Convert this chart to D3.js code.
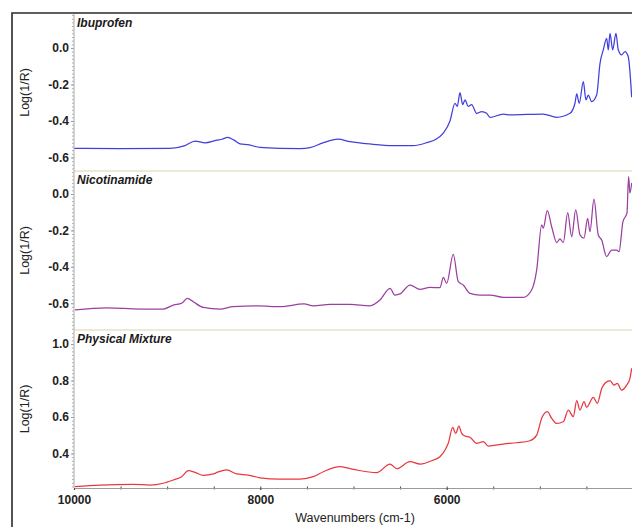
<!DOCTYPE html>
<html>
<head>
<meta charset="utf-8">
<script src="https://cdn.jsdelivr.net/npm/d3@7/dist/d3.min.js"></script>
<style>
  html, body { margin: 0; padding: 0; background: #fff; }
  svg { display: block; }
  text { font-family: "Liberation Sans", Arial, sans-serif; }
</style>
</head>
<body>
<svg id="chart" width="632" height="527"></svg>
<script>
// NIR spectra, wavenumber (cm-1) vs Log(1/R)
const ibuprofenWn = [10000, 9506, 8970, 8809, 8701, 8594, 8468, 8412, 8350, 8283, 8218, 8132, 8004, 7789, 7574, 7467, 7328, 7167, 7038, 6824, 6576, 6362, 6215, 6115, 6039, 5964, 5911, 5886, 5857, 5828, 5803, 5768, 5732, 5678, 5624, 5571, 5535, 5392, 5320, 4963, 4819, 4676, 4623, 4604, 4577, 4533, 4505, 4480, 4444, 4390, 4354, 4319, 4283, 4265, 4247, 4218, 4183, 4158, 4122, 4086, 4051, 4014];
const ibuprofenVal = [-0.55, -0.552, -0.55, -0.535, -0.51, -0.52, -0.505, -0.50, -0.49, -0.505, -0.525, -0.53, -0.545, -0.55, -0.551, -0.546, -0.52, -0.50, -0.513, -0.526, -0.535, -0.535, -0.519, -0.50, -0.468, -0.40, -0.303, -0.32, -0.245, -0.31, -0.285, -0.32, -0.31, -0.358, -0.349, -0.358, -0.38, -0.363, -0.367, -0.362, -0.38, -0.358, -0.303, -0.252, -0.303, -0.185, -0.285, -0.258, -0.294, -0.258, -0.084, -0.011, 0.053, -0.011, 0.08, -0.01, 0.08, -0.01, -0.038, -0.02, -0.048, -0.27];

const nicotinamideWn = [9989, 9649, 9292, 9042, 8934, 8844, 8784, 8720, 8612, 8433, 8293, 8022, 7789, 7531, 7432, 7252, 7038, 6824, 6716, 6608, 6555, 6501, 6394, 6286, 6179, 6072, 6036, 6000, 5929, 5875, 5822, 5750, 5642, 5535, 5392, 5178, 5088, 5034, 4980, 4963, 4920, 4873, 4819, 4784, 4748, 4701, 4658, 4615, 4569, 4526, 4487, 4462, 4419, 4373, 4336, 4283, 4229, 4175, 4150, 4108, 4065, 4047, 4033, 4014];
const nicotinamideVal = [-0.637, -0.625, -0.632, -0.632, -0.61, -0.60, -0.573, -0.592, -0.623, -0.632, -0.619, -0.615, -0.619, -0.604, -0.615, -0.606, -0.606, -0.614, -0.582, -0.518, -0.555, -0.549, -0.50, -0.524, -0.513, -0.515, -0.458, -0.491, -0.332, -0.482, -0.50, -0.546, -0.555, -0.555, -0.568, -0.568, -0.527, -0.418, -0.17, -0.188, -0.092, -0.18, -0.267, -0.247, -0.267, -0.103, -0.235, -0.088, -0.225, -0.243, -0.134, -0.207, -0.029, -0.225, -0.253, -0.344, -0.308, -0.308, -0.317, -0.152, -0.105, 0.095, 0.005, 0.06];

const mixtureWn = [9989, 9721, 9364, 9184, 9042, 8934, 8844, 8773, 8701, 8612, 8505, 8451, 8361, 8254, 8129, 8004, 7789, 7574, 7432, 7324, 7145, 7002, 6751, 6608, 6536, 6394, 6286, 6143, 6072, 6018, 5983, 5935, 5903, 5868, 5839, 5803, 5750, 5678, 5607, 5553, 5392, 5249, 5106, 5034, 4980, 4920, 4873, 4819, 4748, 4694, 4641, 4604, 4569, 4526, 4497, 4426, 4383, 4336, 4301, 4247, 4204, 4169, 4122, 4068, 4033, 4014];
const mixtureVal = [0.218, 0.227, 0.231, 0.227, 0.237, 0.255, 0.273, 0.306, 0.297, 0.28, 0.288, 0.299, 0.31, 0.288, 0.282, 0.267, 0.26, 0.26, 0.273, 0.30, 0.328, 0.313, 0.295, 0.342, 0.317, 0.355, 0.342, 0.364, 0.382, 0.419, 0.456, 0.543, 0.51, 0.55, 0.51, 0.496, 0.489, 0.456, 0.465, 0.441, 0.452, 0.459, 0.47, 0.501, 0.593, 0.629, 0.593, 0.565, 0.574, 0.638, 0.602, 0.69, 0.638, 0.684, 0.653, 0.708, 0.675, 0.757, 0.785, 0.80, 0.775, 0.785, 0.748, 0.775, 0.812, 0.867];

const panelTitles = ["Ibuprofen", "Nicotinamide", "Physical Mixture"];
const ibuprofenTicks = [0.0, -0.2, -0.4, -0.6];
const nicotinamideTicks = [0.0, -0.2, -0.4, -0.6];
const mixtureTicks = [1.0, 0.8, 0.6, 0.4];
const xTicks = [10000, 8000, 6000];
const yTitle = "Log(1/R)";
const xTitle = "Wavenumbers (cm-1)";

const svg = d3.select("#chart");
const W = 632;
const plotLeft = 74, plotRight = 633;

const x = d3.scaleLinear().domain([10000, 4000]).range([plotLeft, plotRight]);

const panels = [
  { title: panelTitles[0], wn: ibuprofenWn, val: ibuprofenVal, ticks: ibuprofenTicks,
    domain: [-0.674, 0.186], top: 14, bottom: 171, color: "#4040dc" },
  { title: panelTitles[1], wn: nicotinamideWn, val: nicotinamideVal, ticks: nicotinamideTicks,
    domain: [-0.747, 0.126], top: 171, bottom: 330, color: "#9a40a0" },
  { title: panelTitles[2], wn: mixtureWn, val: mixtureVal, ticks: mixtureTicks,
    domain: [0.211, 1.077], top: 330, bottom: 488, color: "#e8383f" }
];

// outer frame (left and top edges)
svg.append("path")
  .attr("d", `M12,527 L12,13 L${W},13`)
  .attr("fill", "none").attr("stroke", "#2a2a2a").attr("stroke-width", 1.6);

const defs = svg.append("defs");
const fmt = d => d.toFixed(1);

panels.forEach((p, i) => {
  const y = d3.scaleLinear().domain(p.domain).range([p.bottom, p.top]);

  // panel separators
  if (i > 0) {
    svg.append("line")
      .attr("x1", plotLeft).attr("x2", W)
      .attr("y1", p.top).attr("y2", p.top)
      .attr("stroke", "#e6e2cc").attr("stroke-width", 1.6);
  }

  // minor ticks on the value axis
  const minor = d3.range(Math.ceil(p.domain[0] / 0.02) * 0.02, p.domain[1], 0.02);
  const minorAxis = d3.axisLeft(y).tickValues(minor).tickSize(2).tickFormat("");
  const gm = svg.append("g").attr("transform", `translate(${plotLeft},0)`).call(minorAxis);
  gm.select(".domain").remove();
  gm.selectAll(".tick line").attr("stroke", "#b0b0b0");

  // major ticks and labels
  const axis = d3.axisLeft(y).tickValues(p.ticks).tickSize(3).tickPadding(2).tickFormat(fmt);
  const ga = svg.append("g").attr("transform", `translate(${plotLeft},0)`).call(axis);
  ga.select(".domain").remove();
  ga.selectAll(".tick line").attr("stroke", "#999");
  ga.selectAll(".tick text")
    .attr("font-size", 12).attr("font-weight", "bold").attr("fill", "#222")
    .attr("font-family", "'Liberation Sans', Arial, sans-serif");

  // value-axis title
  svg.append("text")
    .attr("transform", `translate(29,${(p.top + p.bottom) / 2}) rotate(-90)`)
    .attr("text-anchor", "middle")
    .attr("font-size", 12.5).attr("fill", "#222")
    .text(yTitle);

  // spectrum
  const clipId = "clip" + i;
  defs.append("clipPath").attr("id", clipId)
    .append("rect").attr("x", plotLeft).attr("y", p.top)
    .attr("width", W - plotLeft).attr("height", p.bottom - p.top);

  const pts = p.wn.map((w, k) => [w, p.val[k]]);
  const line = d3.line().curve(d3.curveMonotoneX).x(d => x(d[0])).y(d => y(d[1]));
  svg.append("path")
    .datum(pts)
    .attr("clip-path", `url(#${clipId})`)
    .attr("fill", "none")
    .attr("stroke", p.color)
    .attr("stroke-width", 1.25)
    .attr("stroke-linejoin", "round")
    .attr("d", line);

  // panel title
  svg.append("text")
    .attr("x", plotLeft + 3).attr("y", p.top + 12.5)
    .attr("font-size", 12).attr("font-weight", "bold").attr("font-style", "italic")
    .attr("fill", "#1a1a1a")
    .text(p.title);
});

// value-axis line
svg.append("line")
  .attr("x1", plotLeft).attr("x2", plotLeft)
  .attr("y1", 14).attr("y2", 488)
  .attr("stroke", "#b8b8b8").attr("stroke-width", 1.2);

// wavenumber axis
const xMinor = d3.range(9500, 4000, -500);
const gxm = svg.append("g").attr("transform", "translate(0,488)")
  .call(d3.axisBottom(x).tickValues(xMinor).tickSize(2).tickFormat(""));
gxm.select(".domain").remove();
gxm.selectAll(".tick line").attr("stroke", "#444").attr("y1", -1.5).attr("y2", 1.5);

const gx = svg.append("g").attr("transform", "translate(0,488)")
  .call(d3.axisBottom(x).tickValues(xTicks).tickSize(2).tickPadding(5).tickFormat(d3.format("d")));
gx.select(".domain").attr("stroke", "#9a9a9a").attr("stroke-width", 1.2);
gx.selectAll(".tick line").attr("stroke", "#444");
gx.selectAll(".tick text")
  .attr("font-size", 12).attr("font-weight", "bold").attr("fill", "#222")
  .attr("font-family", "'Liberation Sans', Arial, sans-serif");

svg.append("text")
  .attr("x", 355).attr("y", 522)
  .attr("text-anchor", "middle")
  .attr("font-size", 12.5).attr("fill", "#222")
  .text(xTitle);
</script>
</body>
</html>
